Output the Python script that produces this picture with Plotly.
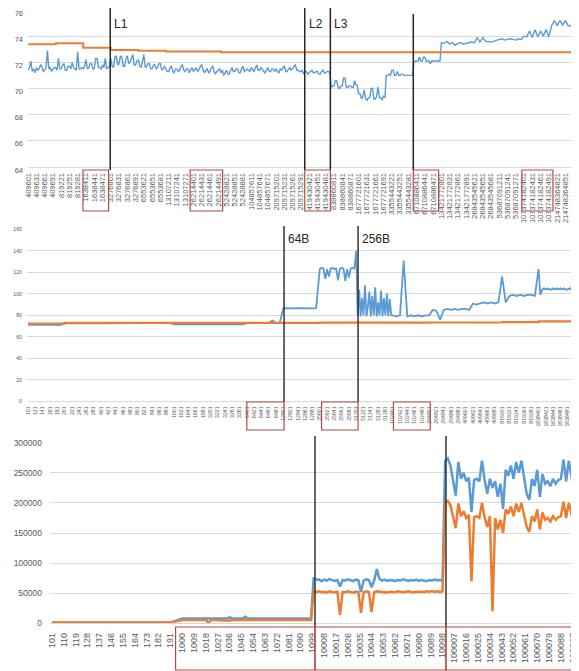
import plotly.graph_objects as go

# The page body adds an 8px margin, so the figure is 8px smaller and all
# reference pixel positions are shifted by OFF.
OFF = 8
W, H = 579 - OFF, 671 - OFF
BLUE = "#5b9bd5"
ORANGE = "#ed7d31"
GRID = "#d9d9d9"
LBL = "#595959"
BOXC = "#b04a47"
FONT = "Liberation Sans"

# ---------------- top chart ----------------
TOP_GROUP_LEN = 100
TOP_BLUE = [
    [71.4, 71.6, 72.1, 71.3, 71.5, 71.2, 71.6, 71.4, 71.5, 71.8, 71.7, 71.3, 71.4, 71.6, 72.9, 71.5, 71.6, 71.3, 71.5, 71.6],
    [71.6, 71.4, 72.3, 71.5, 71.5, 71.8, 71.9, 71.4, 71.4, 71.7, 71.7, 71.5, 72.0, 71.6, 71.5, 71.4, 72.8, 71.5, 71.5, 71.6],
    [71.5, 71.7, 72.2, 71.5, 71.6, 71.9, 71.9, 71.5, 71.5, 72.3, 72.3, 71.6, 71.6, 71.5, 71.8, 71.6, 72.3, 71.5, 71.6, 71.7],
    [72.3, 71.7, 71.6, 72.4, 72.5, 71.8, 71.9, 72.5, 72.4, 71.7, 71.7, 72.3, 72.5, 71.9, 72.0, 72.4, 72.6, 71.8, 71.8, 72.1],
    [72.2, 71.7, 71.6, 72.1, 72.6, 71.6, 71.7, 71.9, 71.9, 71.5, 71.5, 71.8, 71.8, 71.5, 71.6, 71.9, 71.9, 71.4, 71.5, 71.7],
    [71.5, 71.3, 71.3, 71.6, 71.7, 71.3, 71.2, 71.5, 71.5, 71.3, 71.4, 71.7, 71.8, 71.4, 71.3, 71.5, 71.5, 71.2, 71.4, 71.6],
    [71.3, 71.5, 71.6, 71.3, 71.4, 71.7, 71.8, 71.4, 71.2, 71.4, 71.5, 71.2, 71.3, 71.6, 71.7, 71.3, 71.1, 71.3, 71.4, 71.5],
    [71.2, 71.4, 71.0, 71.2, 71.4, 71.1, 71.1, 71.4, 71.6, 71.3, 71.3, 71.5, 71.5, 71.2, 71.2, 71.5, 71.7, 71.3, 71.4, 71.5],
    [71.4, 71.3, 71.6, 71.4, 71.3, 71.6, 71.8, 71.4, 71.4, 71.6, 71.5, 71.3, 71.2, 71.4, 71.6, 71.3, 71.3, 71.5, 71.5, 71.3],
    [71.5, 71.3, 71.2, 71.5, 71.4, 71.6, 71.7, 71.3, 71.3, 71.5, 71.6, 71.4, 71.5, 71.7, 71.8, 71.4, 71.4, 71.3, 71.3, 71.4],
    [71.1, 71.3, 71.3, 71.1, 71.2, 71.3, 71.4, 71.2, 71.2, 71.3, 71.3, 71.1, 71.1, 71.3, 71.4, 71.2, 71.2, 71.3, 71.3, 71.2],
    [70.1, 70.2, 70.2, 70.6, 70.6, 70.1, 70.0, 70.2, 70.2, 70.8, 70.8, 70.1, 70.1, 70.2, 70.2, 70.1, 70.1, 70.6, 70.3, 70.2],
    [69.6, 69.6, 69.2, 69.4, 69.9, 69.2, 69.1, 69.3, 69.3, 70.0, 70.0, 69.2, 69.2, 69.4, 70.1, 69.3, 69.3, 69.1, 69.4, 69.3],
    [71.0, 71.0, 71.1, 71.0, 71.4, 71.4, 71.0, 71.0, 71.3, 71.0, 71.0, 71.1, 71.1, 71.0, 71.0, 71.05, 71.05, 71.0, 71.0, 71.0],
    [72.0, 72.1, 72.1, 72.1, 72.4, 72.1, 72.1, 72.4, 72.4, 72.1, 72.1, 72.1, 71.9, 72.1, 72.1, 72.1, 72.1, 72.1, 72.1, 72.1],
    [73.5, 73.45, 73.6, 73.4, 73.5, 73.3, 73.45, 73.5, 73.4, 73.45],
    [73.5, 73.55, 73.5, 73.9, 73.55, 73.9, 73.6, 73.55, 73.55, 73.6],
    [73.7, 73.75, 73.8, 73.7, 73.75, 73.8, 73.75, 73.7, 73.8, 73.75],
    [74.0, 73.95, 74.4, 73.9, 74.5, 73.95, 74.4, 74.0, 74.5, 73.95],
    [74.8, 75.2, 74.8, 75.2, 74.85, 75.2, 74.8, 74.8, 75.1, 74.8],
]
TOP_ORANGE = [73.38, 73.45, 73.12, 72.95, 72.88, 72.82, 72.82, 72.77, 72.77, 72.77,
              72.77, 72.77, 72.77, 72.77, 72.77, 72.77, 72.77, 72.77, 72.77, 72.77]
TOP_TICKS = [
    "409601", "409631", "409661", "409691", "819221", "819251", "819281",
    "1638411", "1638441", "1638471", "3276801", "3276831", "3276861", "3276891",
    "6553621", "6553651", "6553681", "13107211", "13107241", "13107271",
    "26214401", "26214431", "26214461", "26214491", "52428821", "52428851", "52428881",
    "104857611", "104857641", "104857671", "209715201", "209715231", "209715261", "209715291",
    "419430421", "419430451", "419430481", "838860811", "838860841", "838860871",
    "1677721601", "1677721631", "1677721661", "1677721691", "3355443221", "3355443251", "3355443281",
    "6710886411", "6710886441", "6710886471", "13421772801", "13421772831", "13421772861", "13421772891",
    "26843545621", "26843545651", "26843545681", "53687091211", "53687091241", "53687091271",
    "107374182401", "107374182431", "107374182461", "107374182491",
    "214748364821", "214748364851", "214748364881",
]
TOP_YTICKS = [64, 66, 68, 70, 72, 74, 76]
TOP_MARKS = [("L1", 298, 7), ("L2", 1004, 7), ("L3", 1097, 7), ("", 1398, 14)]
TOP_BOXES = [(199, 292), (588, 706), (1004, 1097), (1398, 1490), (1792, 1905)]

# ---------------- middle chart ----------------
MID_GROUP_LEN = 100
MID_BLUE = [
    [71.0, 71.2, 70.9, 71.1, 71.0, 71.2, 71.0, 71.1, 70.9, 71.0],
    [72.6, 72.5, 72.7, 72.5, 72.6, 72.5, 72.6, 72.7, 72.5, 72.6],
    [72.6, 72.5, 72.6, 72.7, 72.5, 72.6, 72.6, 72.5, 72.7, 72.6],
    [72.8, 72.7, 72.8, 72.9, 72.7, 72.8, 72.8, 72.7, 72.9, 72.8],
    [71.6, 71.5, 71.7, 71.5, 71.6, 71.5, 71.6, 71.7, 71.5, 71.6],
    [71.6, 71.5, 71.6, 71.7, 71.5, 71.6, 71.5, 71.6, 71.7, 71.6],
    [72.8, 72.9, 72.8, 72.9, 72.8, 72.9, 72.8, 75.0, 72.9, 72.8],
    [86.5, 86.6, 86.4, 86.5, 86.7, 86.5, 86.4, 86.6, 86.5, 86.6],
    [123.0, 124.0, 123.5, 114.0, 123.0, 116.0, 123.5, 124.0, 123.0, 123.5,
     112.5, 123.0, 124.0, 123.5, 112.0, 123.0, 115.0, 123.5, 124.0, 123.5],
    [140, 80, 104, 79, 96, 80, 108, 79, 88, 102, 79, 98, 80, 106, 79, 92, 80,
     103, 79, 96, 80, 100, 79, 95, 80],
    [80, 79, 80, 131, 79, 80, 79, 80, 79, 80],
    [80, 85, 84, 76, 85, 86, 85, 86, 85, 86],
    [86, 85, 91, 90, 91, 92, 91, 92, 91, 92],
    [116, 92, 98, 99, 98, 99, 98, 99, 99, 98],
    [123, 99, 104, 105, 104, 105, 104, 104, 105, 104, 105, 104, 105, 104, 105,
     104, 104, 105, 104, 129],
]
MID_ORANGE = [72.3, 73.0, 73.0, 73.0, 73.0, 73.0, 73.0, 73.0, 73.2, 73.2,
              73.2, 73.3, 73.3, 73.6, 74.3]
MID_TICKS = [
    "101", "121", "141", "161", "181", "201", "221", "241", "261", "281",
    "401", "421", "441", "461", "481", "801", "821", "841", "861", "881",
    "1601", "1621", "1641", "1661", "1681", "3201", "3221", "3241", "3261", "3281",
    "6401", "6421", "6441", "6461", "6481", "12801", "12821", "12841", "12861", "12881",
    "25601", "25621", "25641", "25661", "25681", "51201", "51221", "51241", "51261", "51281",
    "102401", "102421", "102441", "102461", "102481", "204801", "204821", "204841", "204861", "204881",
    "409601", "409621", "409641", "409661", "409681", "819201", "819221", "819241", "819261", "819281",
    "1638401", "1638421", "1638441", "1638461", "1638481",
]
MID_YTICKS = [0, 20, 40, 60, 80, 100, 120, 140, 160]
MID_MARKS = [("64B", 702), ("256B", 905)]
MID_BOXES = [(600, 702), (805, 905), (1002, 1103)]

# ---------------- bottom chart ----------------
BOT_STARTS = [0, 99, 199, 299]
BOT_LENS = [99, 100, 100, 100]
BOT_BLUE = [
    [1000, 900, 1000, 900, 950, 1000, 900, 950, 1000, 900, 950],
    [7800, 8000, 7900, 8100, 7900, 8000, 7800, 8000, 8100, 7900,
     8000, 7900, 8100, 8000, 7900, 8100, 8000, 7900, 9800, 8000,
     7900, 8100, 8000, 7900, 11000, 8100, 8000, 7900, 8000, 8100,
     7900, 8000, 8100, 7900, 8000, 7900, 8100, 8000, 7900, 8000,
     8100, 7900, 8000, 8100, 7900, 8000, 7900, 8100, 8000, 7900],
    [76000, 72000, 73000, 70000, 72500, 71000, 73500, 72000, 70500, 72000,
     61000, 72000, 71000, 73000, 72000, 70000, 72500, 71500, 52000, 71000,
     73000, 72000, 60000, 71000, 90000, 74000, 71000, 72500, 70500, 72000,
     71500, 70000, 72000, 71000, 73000, 71500, 70500, 72000, 71000, 72500,
     70500, 72000, 71500, 70000, 72000, 71000, 72500, 71500, 72000, 70500],
    [270000, 274000, 262000, 240000, 212000, 268000, 240000, 250000, 236000, 242000,
     185000, 238000, 240000, 236000, 270000, 238000, 215000, 240000, 225000, 236000,
     210000, 232000, 190000, 255000, 245000, 262000, 240000, 268000, 250000, 270000,
     240000, 215000, 205000, 240000, 228000, 255000, 210000, 248000, 232000, 236000,
     228000, 240000, 232000, 238000, 240000, 272000, 236000, 270000, 245000, 212000],
]
BOT_ORANGE = [
    [1200, 1150, 1200, 1100, 1150, 1200, 1150, 1100, 1200, 1150, 1200],
    [5400, 5600, 5500, 5400, 5600, 5500, 5400, 5600, 5500, 5400,
     300, 5500, 5600, 5400, 5500, 5600, 5400, 5500, 4200, 5600,
     5500, 5400, 5600, 5500, 5400, 5600, 5500, 5400, 5600, 5500,
     5400, 5600, 5500, 5400, 5600, 5500, 5400, 5600, 5500, 5400,
     5600, 5500, 5400, 5600, 5500, 5400, 5600, 5500, 5400, 5600],
    [55000, 52000, 53000, 51500, 52500, 51000, 53000, 52000, 51500, 52500,
     14000, 52000, 51500, 53000, 52000, 51000, 52500, 52000, 17500, 51500,
     53000, 52000, 19000, 51500, 53000, 52500, 51500, 52000, 51000, 52500,
     52000, 51500, 53000, 52000, 51500, 52500, 53000, 52000, 51500, 52500,
     53000, 52500, 52000, 53000, 52500, 53500, 52000, 53000, 52500, 53000],
    [200000, 203000, 196000, 178000, 158000, 199000, 178000, 186000, 175000, 180000,
     70000, 176000, 178000, 175000, 200000, 176000, 160000, 178000, 20000, 175000,
     156000, 172000, 150000, 189000, 182000, 194000, 178000, 199000, 185000, 200000,
     178000, 160000, 152000, 178000, 169000, 189000, 156000, 184000, 172000, 175000,
     169000, 178000, 172000, 176000, 178000, 202000, 175000, 200000, 182000, 158000],
]
BOT_TICKS = [
    "101", "110", "119", "128", "137", "146", "155", "164", "173", "182", "191",
    "1000", "1009", "1018", "1027", "1036", "1045", "1054", "1063", "1072", "1081", "1090", "1099",
    "10008", "10017", "10026", "10035", "10044", "10053", "10062", "10071", "10080", "10089", "10098",
    "100007", "100016", "100025", "100034", "100043", "100052", "100061", "100070", "100079",
    "100088", "100097",
]
BOT_YTICKS = [0, 50000, 100000, 150000, 200000, 250000, 300000]
BOT_MARKS = [200, 299.6]
BOT_BOXES = [(94, 200), (200, 299.6), (299.6, 399.3)]


def px(p):
    return min(1.0, max(0.0, (p - OFF) / W))


def py(p):
    return min(1.0, max(0.0, 1 - (p - OFF) / H))


def build(groups, starts, lens):
    xs, ys = [], []
    for vals, s, L in zip(groups, starts, lens):
        n = len(vals)
        for k, v in enumerate(vals):
            xs.append(s + k * L / n)
            ys.append(v)
    return xs, ys


def steps(levels, glen):
    xs = [i * glen for i in range(len(levels))] + [len(levels) * glen - 1]
    ys = list(levels) + [levels[-1]]
    return xs, ys


fig = go.Figure()

tb_x, tb_y = build(TOP_BLUE, [i * TOP_GROUP_LEN for i in range(len(TOP_BLUE))],
                   [TOP_GROUP_LEN] * len(TOP_BLUE))
fig.add_trace(go.Scatter(x=tb_x, y=tb_y, mode="lines", line=dict(color=BLUE, width=1.4),
                         xaxis="x", yaxis="y"))
to_x, to_y = steps(TOP_ORANGE, TOP_GROUP_LEN)
fig.add_trace(go.Scatter(x=to_x, y=to_y, mode="lines", line=dict(color=ORANGE, width=2, shape="hv"),
                         xaxis="x", yaxis="y"))

mb_x, mb_y = build(MID_BLUE, [i * MID_GROUP_LEN for i in range(len(MID_BLUE))],
                   [MID_GROUP_LEN] * len(MID_BLUE))
fig.add_trace(go.Scatter(x=mb_x, y=mb_y, mode="lines", line=dict(color=BLUE, width=1.8),
                         xaxis="x2", yaxis="y2"))
mo_x, mo_y = steps(MID_ORANGE, MID_GROUP_LEN)
fig.add_trace(go.Scatter(x=mo_x, y=mo_y, mode="lines", line=dict(color=ORANGE, width=2.2, shape="hv"),
                         xaxis="x2", yaxis="y2"))

bb_x, bb_y = build(BOT_BLUE, BOT_STARTS, BOT_LENS)
fig.add_trace(go.Scatter(x=bb_x, y=bb_y, mode="lines", line=dict(color=BLUE, width=2.5),
                         xaxis="x3", yaxis="y3"))
bo_x, bo_y = build(BOT_ORANGE, BOT_STARTS, BOT_LENS)
fig.add_trace(go.Scatter(x=bo_x, y=bo_y, mode="lines", line=dict(color=ORANGE, width=2.5),
                         xaxis="x3", yaxis="y3"))

xcommon = dict(showgrid=False, zeroline=False, showline=True, linecolor=GRID, linewidth=1,
               tickmode="array", tickangle=-90, ticks="", automargin=False,
               ticklabeloverflow="allow")
ycommon = dict(showgrid=True, gridcolor=GRID, gridwidth=1, zeroline=False, showline=False,
               tickmode="array", ticks="", automargin=False, ticklabeloverflow="allow")

fig.update_layout(
    width=W, height=H, autosize=False,
    margin=dict(l=0, r=0, t=0, b=0, pad=0),
    paper_bgcolor="white", plot_bgcolor="white",
    showlegend=False,
    font=dict(family=FONT, color=LBL),
    xaxis=dict(xcommon, domain=[px(28), 1.0], range=[-0.5, 1999.5], anchor="y",
               tickvals=[i * 30 for i in range(len(TOP_TICKS))], ticktext=TOP_TICKS,
               tickfont=dict(size=7.5, color=LBL), ticklabelstandoff=2),
    yaxis=dict(ycommon, domain=[py(167), py(10)], range=[64, 76], anchor="x",
               tickvals=TOP_YTICKS, ticktext=[str(v) for v in TOP_YTICKS],
               tickfont=dict(size=7.5, color=LBL), ticklabelstandoff=4,
               ticklabelshift=3),
    xaxis2=dict(xcommon, domain=[px(27), px(575)], range=[-3, 1500], anchor="y2",
                tickvals=[i * 20 for i in range(len(MID_TICKS))], ticktext=MID_TICKS,
                tickfont=dict(size=5.2, color=LBL), ticklabelstandoff=2),
    yaxis2=dict(ycommon, domain=[py(401.3), py(229.3)], range=[0, 160], anchor="x2",
                tickvals=MID_YTICKS, ticktext=[str(v) for v in MID_YTICKS],
                tickfont=dict(size=5.2, color=LBL), ticklabelstandoff=4),
    xaxis3=dict(xcommon, domain=[px(50), px(578)], range=[-1.5, 400], anchor="y3",
                tickvals=[i * 9 for i in range(len(BOT_TICKS))], ticktext=BOT_TICKS,
                tickfont=dict(size=9, color=LBL), ticklabelstandoff=5),
    yaxis3=dict(ycommon, domain=[py(623.3), py(442.7)], range=[0, 300000], anchor="x3",
                tickvals=BOT_YTICKS, ticktext=[str(v) for v in BOT_YTICKS],
                tickfont=dict(size=8.5, color=LBL), ticklabelstandoff=7),
)

shapes = []
annots = []
for name, xv, top in TOP_MARKS:
    shapes.append(dict(type="line", xref="x", yref="paper", x0=xv, x1=xv,
                       y0=py(top), y1=py(170), line=dict(color="#262626", width=1.5)))
    if name:
        annots.append(dict(text=name, xref="x", yref="paper", x=xv, y=py(24),
                           xanchor="left", yanchor="middle", xshift=2, showarrow=False,
                           font=dict(size=12, color="#262626", family=FONT)))
for x0, x1 in TOP_BOXES:
    shapes.append(dict(type="rect", xref="x", yref="paper", x0=x0, x1=x1,
                       y0=py(211), y1=py(170), line=dict(color=BOXC, width=1.2)))

for name, xv in MID_MARKS:
    shapes.append(dict(type="line", xref="x2", yref="paper", x0=xv, x1=xv,
                       y0=py(226), y1=py(402), line=dict(color="#333333", width=1.5)))
    annots.append(dict(text=name, xref="x2", yref="paper", x=xv, y=py(239),
                       xanchor="left", yanchor="middle", xshift=2, showarrow=False,
                       font=dict(size=12, color="#262626", family=FONT)))
for x0, x1 in MID_BOXES:
    shapes.append(dict(type="rect", xref="x2", yref="paper", x0=x0, x1=x1,
                       y0=py(430), y1=py(402), line=dict(color=BOXC, width=1.2)))

for xv in BOT_MARKS:
    shapes.append(dict(type="line", xref="x3", yref="paper", x0=xv, x1=xv,
                       y0=py(436), y1=py(627), line=dict(color="#333333", width=1.5)))
for x0, x1 in BOT_BOXES:
    shapes.append(dict(type="rect", xref="x3", yref="paper", x0=x0, x1=x1,
                       y0=py(670), y1=py(627), line=dict(color=BOXC, width=1.2)))

fig.update_layout(shapes=shapes, annotations=annots)
fig.write_html("out.html")
